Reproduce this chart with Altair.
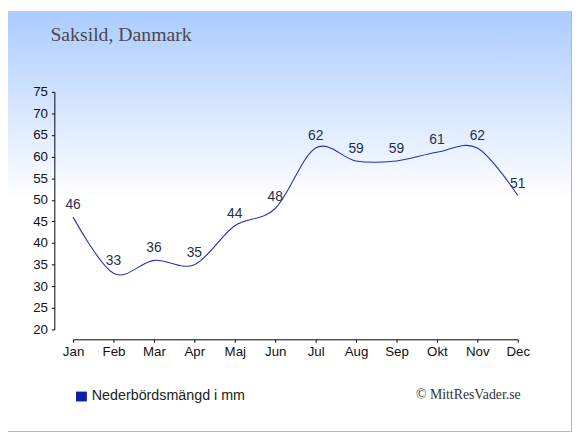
import altair as alt
import pandas as pd

MONTHS = ["Jan", "Feb", "Mar", "Apr", "Maj", "Jun", "Jul", "Aug", "Sep", "Okt", "Nov", "Dec"]
RAIN = [46, 33, 36, 35, 44, 48, 62, 59, 59, 61, 62, 51]
Y_TICKS = [20, 25, 30, 35, 40, 45, 50, 55, 60, 65, 70, 75]
TITLE = "Saksild, Danmark"
LEGEND_LABEL = "Nederbördsmängd i mm"
CREDIT = "© MittResVader.se"

W, H = 451, 241
PAD = {"left": 66, "top": 82, "right": 55, "bottom": 104}

df = pd.DataFrame({"month": MONTHS, "rain": RAIN})
one = pd.DataFrame({"k": [0]})

LINE_COLOR = "#2430b4"
SANS = "Liberation Sans"
SERIF = "Liberation Serif"

x_enc = alt.X(
    "month:O",
    sort=MONTHS,
    scale=alt.Scale(type="point", padding=0),
    axis=alt.Axis(
        title=None, labelAngle=0, offset=10, tickSize=3, labelPadding=2,
        labelFont=SANS, labelFontSize=13.5, labelColor="#111111",
        domainColor="#000000", tickColor="#000000", grid=False, zindex=2,
        labelOverlap=False,
    ),
)
y_enc = alt.Y(
    "rain:Q",
    scale=alt.Scale(domain=[20, 75], nice=False, zero=False),
    axis=alt.Axis(
        title=None, values=Y_TICKS, offset=19, tickSize=3, labelPadding=4,
        labelFont=SANS, labelFontSize=13.5, labelColor="#111111",
        domainColor="#000000", tickColor="#000000", grid=False, zindex=2,
        labelOverlap=False, labelFlush=False,
    ),
)

bg = alt.Chart(one).mark_rect(
    fill=alt.LinearGradient(
        gradient="linear",
        x1=0, x2=0, y1=0, y2=1,
        stops=[
            alt.GradientStop(offset=0, color="#abcbff"),
            alt.GradientStop(offset=0.45, color="#ffffff"),
            alt.GradientStop(offset=1, color="#ffffff"),
        ],
    )
).encode(
    x=alt.value(-PAD["left"]), x2=alt.value(W + PAD["right"]),
    y=alt.value(-PAD["top"]), y2=alt.value(H + PAD["bottom"]),
)

border_r = alt.Chart(one).mark_rule(color="#b4b4b4", strokeWidth=1).encode(
    x=alt.value(W + PAD["right"] - 0.5),
    y=alt.value(-PAD["top"]), y2=alt.value(H + PAD["bottom"]),
)
border_b = alt.Chart(one).mark_rule(color="#b4b4b4", strokeWidth=1).encode(
    y=alt.value(H + PAD["bottom"] - 0.5),
    x=alt.value(-PAD["left"]), x2=alt.value(W + PAD["right"]),
)

line = alt.Chart(df).mark_line(
    interpolate="cardinal", color=LINE_COLOR, strokeWidth=1.1
).encode(x=x_enc, y=y_enc)

labels = alt.Chart(df).mark_text(
    font=SANS, fontSize=14, color="#1f2f4d", baseline="alphabetic", align="center", dy=-8
).encode(x=x_enc, y=y_enc, text="rain:Q")

title = alt.Chart(one).mark_text(
    font=SERIF, fontSize=20, color="#4a4a4a", align="left", baseline="alphabetic"
).encode(x=alt.value(-23), y=alt.value(-52), text=alt.value(TITLE))

leg_sq = alt.Chart(one).mark_rect(color="#0b1fa9").encode(
    x=alt.value(3), x2=alt.value(14), y=alt.value(304), y2=alt.value(314)
)
leg_txt = alt.Chart(one).mark_text(
    font=SANS, fontSize=14.5, color="#222222", align="left", baseline="alphabetic"
).encode(x=alt.value(19), y=alt.value(313), text=alt.value(LEGEND_LABEL))

credit = alt.Chart(one).mark_text(
    font=SERIF, fontSize=14, color="#333333", align="right", baseline="alphabetic"
).encode(x=alt.value(454), y=alt.value(312), text=alt.value(CREDIT))

chart = alt.layer(
    bg, border_r, border_b, line, labels, title, leg_sq, leg_txt, credit
).properties(
    width=W, height=H,
    autosize=alt.AutoSizeParams(type="none"),
    padding=PAD,
).configure_view(stroke=None)

chart.save("out.html", embed_options={"renderer": "svg", "actions": False})
